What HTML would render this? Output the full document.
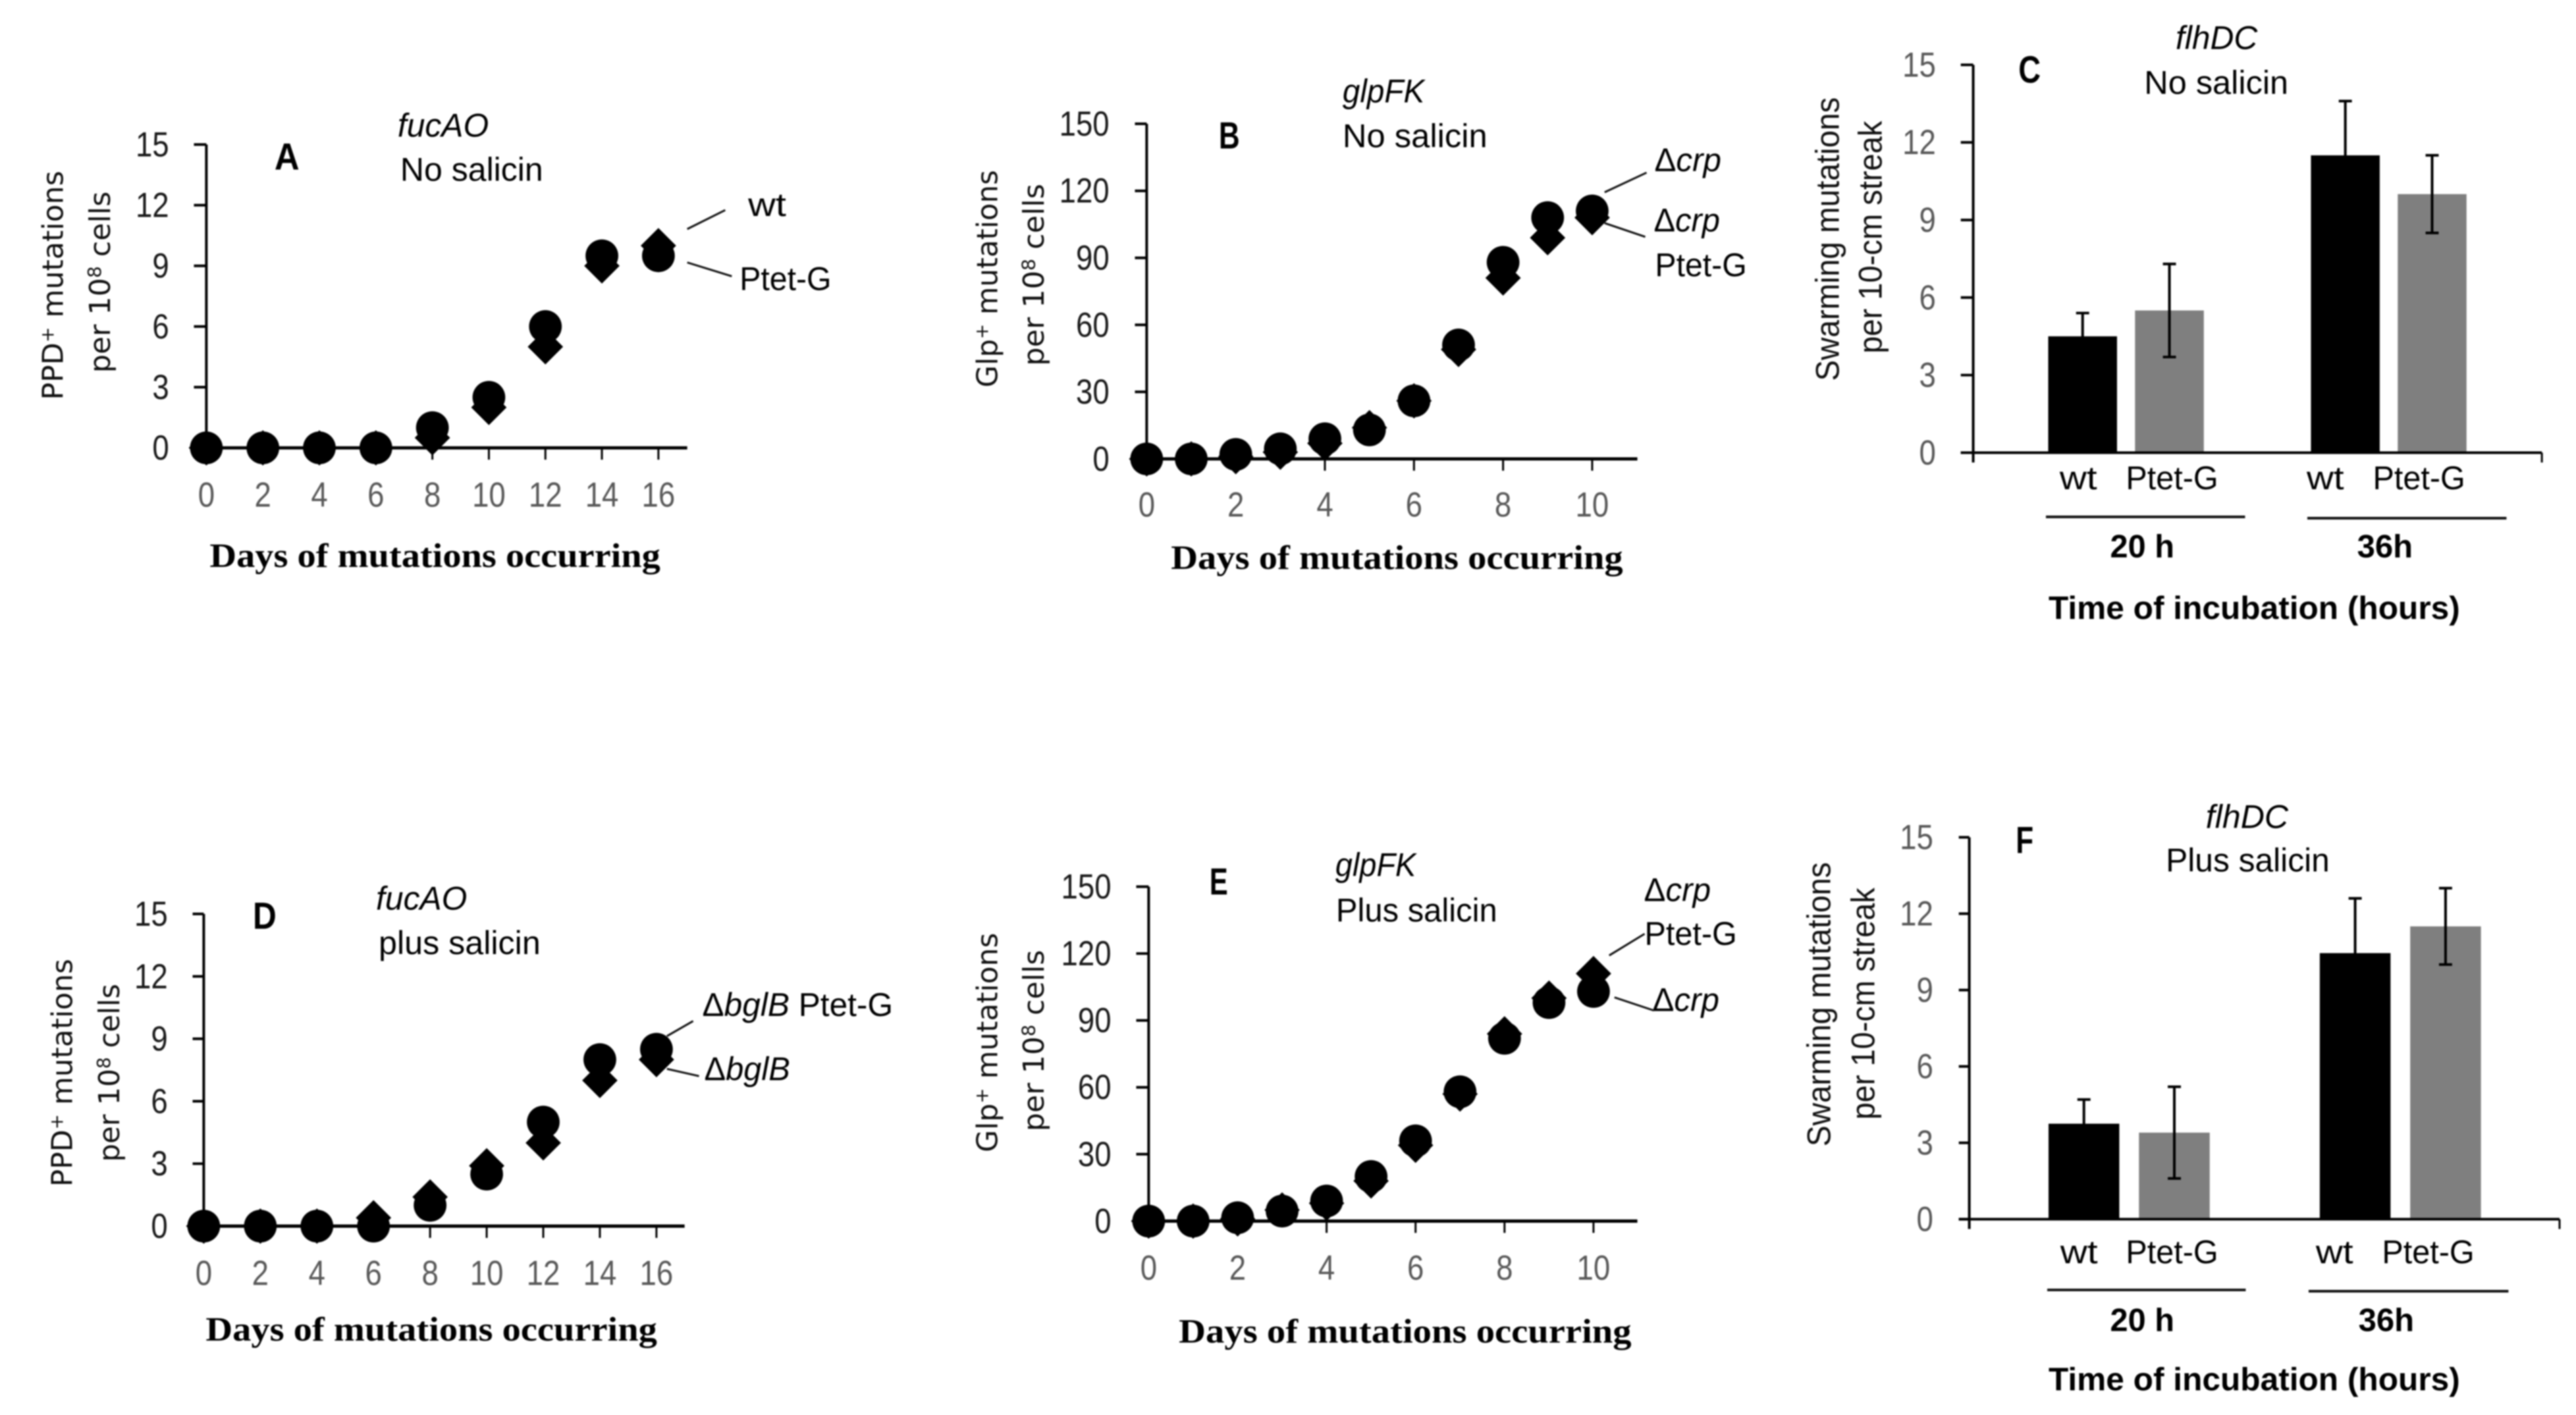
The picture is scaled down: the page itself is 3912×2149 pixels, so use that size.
<!DOCTYPE html>
<html lang="en">
<head>
<meta charset="utf-8">
<title>Mutation rates, panels A to F</title>
<style>
html,body{margin:0;padding:0;background:#fff;}
svg{display:block;filter:blur(1.1px);}
text{font-family:"Liberation Sans",sans-serif;fill:#000;}
.note{font-size:50px;}
.it{font-style:italic;}
.letter{font-size:58px;font-weight:bold;}
.days{font-family:"Liberation Serif",serif;font-size:52px;font-weight:bold;}
.hours{font-size:49px;font-weight:bold;}
.yl{font-family:"DejaVu Sans",sans-serif;font-size:44px;text-anchor:middle;fill:#111;}
.yb{font-size:50px;text-anchor:middle;fill:#111;}
.lead{stroke:#111;stroke-width:3;}
.under{stroke:#111;stroke-width:4;}
</style>
</head>
<body>
<svg id="fig" width="3912" height="2149" viewBox="0 0 3912 2149" xmlns="http://www.w3.org/2000/svg">
<rect width="3912" height="2149" fill="#fff"/>

<g id="panel-a" transform="translate(0 130) scale(.9949) translate(0 -130)">
<text class="letter" x="419" y="258" textLength="38" lengthAdjust="spacingAndGlyphs">A</text>
<text class="note it" x="607" y="208" textLength="139" lengthAdjust="spacingAndGlyphs">fucAO</text>
<text class="note" x="611" y="275" textLength="218" lengthAdjust="spacingAndGlyphs">No salicin</text>
<text class="note" x="1142" y="329" textLength="58" lengthAdjust="spacingAndGlyphs">wt</text>
<text class="note" x="1129" y="442" textLength="140" lengthAdjust="spacingAndGlyphs">Ptet-G</text>
<line class="lead" x1="1049" y1="349" x2="1107" y2="320"/>
<line class="lead" x1="1049" y1="400" x2="1117" y2="421"/>
<text class="yl" transform="translate(96,435) rotate(-90)" textLength="350" lengthAdjust="spacingAndGlyphs">PPD<tspan font-size="28" dy="-14">+</tspan><tspan dy="14"> mutations</tspan></text>
<text class="yl" transform="translate(168,430) rotate(-90)" textLength="277" lengthAdjust="spacingAndGlyphs">per 10<tspan font-size="28" dy="-14">8</tspan><tspan dy="14"> cells</tspan></text>
<text class="days" x="320" y="865" textLength="688" lengthAdjust="spacingAndGlyphs">Days of mutations occurring</text>
</g>

<g id="panel-b" transform="translate(1430 100) scale(.9949) translate(-1430 -100)">
<text class="letter" x="1853" y="226" textLength="32" lengthAdjust="spacingAndGlyphs">B</text>
<text class="note it" x="2042" y="156" textLength="125" lengthAdjust="spacingAndGlyphs">glpFK</text>
<text class="note" x="2042" y="224" textLength="221" lengthAdjust="spacingAndGlyphs">No salicin</text>
<text class="note" x="2518" y="261" textLength="102" lengthAdjust="spacingAndGlyphs">Δ<tspan class="it">crp</tspan></text>
<text class="note" x="2517" y="353" textLength="101" lengthAdjust="spacingAndGlyphs">Δ<tspan class="it">crp</tspan></text>
<text class="note" x="2519" y="421" textLength="140" lengthAdjust="spacingAndGlyphs">Ptet-G</text>
<line class="lead" x1="2442" y1="293" x2="2506" y2="263"/>
<line class="lead" x1="2442" y1="340" x2="2504" y2="361"/>
<text class="yl" transform="translate(1515,425) rotate(-90)" textLength="332" lengthAdjust="spacingAndGlyphs">Glp<tspan font-size="28" dy="-14">+</tspan><tspan dy="14"> mutations</tspan></text>
<text class="yl" transform="translate(1586,419) rotate(-90)" textLength="278" lengthAdjust="spacingAndGlyphs">per 10<tspan font-size="28" dy="-14">8</tspan><tspan dy="14"> cells</tspan></text>
<text class="days" x="1780" y="868" textLength="690" lengthAdjust="spacingAndGlyphs">Days of mutations occurring</text>
</g>

<g id="panel-c" transform="translate(2720 0) scale(.9949) translate(-2720 0)">
<text class="letter" x="3067" y="126" textLength="34" lengthAdjust="spacingAndGlyphs">C</text>
<text class="note it" x="3307" y="75" textLength="125" lengthAdjust="spacingAndGlyphs">flhDC</text>
<text class="note" x="3259" y="143" textLength="220" lengthAdjust="spacingAndGlyphs">No salicin</text>
<text class="yb" transform="translate(2793,365) rotate(-90)" textLength="433" lengthAdjust="spacingAndGlyphs">Swarming mutations</text>
<text class="yb" transform="translate(2858,362) rotate(-90)" textLength="355" lengthAdjust="spacingAndGlyphs">per 10-cm streak</text>
<text class="note" x="3130" y="747" textLength="57" lengthAdjust="spacingAndGlyphs">wt</text>
<text class="note" x="3231" y="747" textLength="141" lengthAdjust="spacingAndGlyphs">Ptet-G</text>
<text class="note" x="3507" y="747" textLength="57" lengthAdjust="spacingAndGlyphs">wt</text>
<text class="note" x="3608" y="747" textLength="141" lengthAdjust="spacingAndGlyphs">Ptet-G</text>
<line class="under" x1="3109" y1="789" x2="3413" y2="789"/>
<line class="under" x1="3508" y1="791" x2="3812" y2="791"/>
<text class="hours" x="3207" y="851" textLength="98" lengthAdjust="spacingAndGlyphs">20 h</text>
<text class="hours" x="3584" y="851" textLength="85" lengthAdjust="spacingAndGlyphs">36h</text>
<text class="hours" x="3113" y="945" textLength="628" lengthAdjust="spacingAndGlyphs">Time of incubation (hours)</text>
</g>

<g id="panel-d" transform="translate(0 1300) scale(.9949) translate(0 -1300)">
<text class="letter" x="386" y="1411" textLength="36" lengthAdjust="spacingAndGlyphs">D</text>
<text class="note it" x="574" y="1382" textLength="139" lengthAdjust="spacingAndGlyphs">fucAO</text>
<text class="note" x="578" y="1450" textLength="247" lengthAdjust="spacingAndGlyphs">plus salicin</text>
<text class="note" x="1072" y="1544" textLength="291" lengthAdjust="spacingAndGlyphs">Δ<tspan class="it">bglB</tspan> Ptet-G</text>
<text class="note" x="1075" y="1642" textLength="131" lengthAdjust="spacingAndGlyphs">Δ<tspan class="it">bglB</tspan></text>
<line class="lead" x1="1018" y1="1575" x2="1058" y2="1552"/>
<line class="lead" x1="1018" y1="1625" x2="1067" y2="1636"/>
<text class="yl" transform="translate(110,1631) rotate(-90)" textLength="348" lengthAdjust="spacingAndGlyphs">PPD<tspan font-size="28" dy="-14">+</tspan><tspan dy="14"> mutations</tspan></text>
<text class="yl" transform="translate(182,1631) rotate(-90)" textLength="272" lengthAdjust="spacingAndGlyphs">per 10<tspan font-size="28" dy="-14">8</tspan><tspan dy="14"> cells</tspan></text>
<text class="days" x="314" y="2040" textLength="689" lengthAdjust="spacingAndGlyphs">Days of mutations occurring</text>
</g>

<g id="panel-e" transform="translate(1430 1270) scale(.9949) translate(-1430 -1270)">
<text class="letter" x="1839" y="1359" textLength="28" lengthAdjust="spacingAndGlyphs">E</text>
<text class="note it" x="2031" y="1331" textLength="123" lengthAdjust="spacingAndGlyphs">glpFK</text>
<text class="note" x="2032" y="1400" textLength="246" lengthAdjust="spacingAndGlyphs">Plus salicin</text>
<text class="note" x="2502" y="1369" textLength="102" lengthAdjust="spacingAndGlyphs">Δ<tspan class="it">crp</tspan></text>
<text class="note" x="2503" y="1436" textLength="141" lengthAdjust="spacingAndGlyphs">Ptet-G</text>
<text class="note" x="2515" y="1537" textLength="102" lengthAdjust="spacingAndGlyphs">Δ<tspan class="it">crp</tspan></text>
<line class="lead" x1="2449" y1="1452" x2="2503" y2="1419"/>
<line class="lead" x1="2457" y1="1516" x2="2517" y2="1536"/>
<text class="yl" transform="translate(1515,1585) rotate(-90)" textLength="335" lengthAdjust="spacingAndGlyphs">Glp<tspan font-size="28" dy="-14">+</tspan><tspan dy="14"> mutations</tspan></text>
<text class="yl" transform="translate(1586,1582) rotate(-90)" textLength="277" lengthAdjust="spacingAndGlyphs">per 10<tspan font-size="28" dy="-14">8</tspan><tspan dy="14"> cells</tspan></text>
<text class="days" x="1792" y="2043" textLength="691" lengthAdjust="spacingAndGlyphs">Days of mutations occurring</text>
</g>

<g id="panel-f" transform="translate(2720 1190) scale(.9949) translate(-2720 -1190)">
<text class="letter" x="3063" y="1296" textLength="27" lengthAdjust="spacingAndGlyphs">F</text>
<text class="note it" x="3353" y="1258" textLength="126" lengthAdjust="spacingAndGlyphs">flhDC</text>
<text class="note" x="3292" y="1324" textLength="250" lengthAdjust="spacingAndGlyphs">Plus salicin</text>
<text class="yb" transform="translate(2780,1527) rotate(-90)" textLength="434" lengthAdjust="spacingAndGlyphs">Swarming mutations</text>
<text class="yb" transform="translate(2847,1526) rotate(-90)" textLength="354" lengthAdjust="spacingAndGlyphs">per 10-cm streak</text>
<text class="note" x="3131" y="1922" textLength="57" lengthAdjust="spacingAndGlyphs">wt</text>
<text class="note" x="3231" y="1922" textLength="141" lengthAdjust="spacingAndGlyphs">Ptet-G</text>
<text class="note" x="3521" y="1922" textLength="57" lengthAdjust="spacingAndGlyphs">wt</text>
<text class="note" x="3622" y="1922" textLength="141" lengthAdjust="spacingAndGlyphs">Ptet-G</text>
<line class="under" x1="3111" y1="1963" x2="3414" y2="1963"/>
<line class="under" x1="3510" y1="1965" x2="3815" y2="1965"/>
<text class="hours" x="3207" y="2026" textLength="98" lengthAdjust="spacingAndGlyphs">20 h</text>
<text class="hours" x="3586" y="2026" textLength="85" lengthAdjust="spacingAndGlyphs">36h</text>
<text class="hours" x="3113" y="2116" textLength="628" lengthAdjust="spacingAndGlyphs">Time of incubation (hours)</text>
</g>
</svg>

<script>
// Panel A data
const daysA = [0, 2, 4, 6, 8, 10, 12, 14, 16];
const circlesA = [0, 0, 0, 0, 1, 2.5, 6, 9.5, 9.5];
const diamondsA = [0, 0, 0, 0, 0.5, 2, 5, 9, 10];
// Panel B data
const daysB = [0, 1, 2, 3, 4, 5, 6, 7, 8, 9, 10];
const circlesB = [0, 0, 2, 4.5, 9, 13, 26, 51, 88, 108, 111];
const diamondsB = [0, 0, 1, 3, 7, 14, 26, 49, 81, 99, 108];
// Panel C data
const barLabelsC = ['wt 20 h', 'Ptet-G 20 h', 'wt 36 h', 'Ptet-G 36 h'];
const barValuesC = [4.5, 5.5, 11.5, 10];
const barErrorsC = [0.9, 1.8, 2.1, 1.5];
// Panel D data
const daysD = [0, 2, 4, 6, 8, 10, 12, 14, 16];
const circlesD = [0, 0, 0, 0, 1, 2.5, 5, 8, 8.5];
const diamondsD = [0, 0, 0, 0.4, 1.4, 2.9, 4, 7, 8];
// Panel E data
const daysE = [0, 1, 2, 3, 4, 5, 6, 7, 8, 9, 10];
const circlesE = [0, 0, 1.5, 4.5, 9, 20, 36, 58, 82, 98, 103];
const diamondsE = [0, 0, 1, 5, 8, 18, 34, 57, 84, 100, 111];
// Panel F data
const barLabelsF = ['wt 20 h', 'Ptet-G 20 h', 'wt 36 h', 'Ptet-G 36 h'];
const barValuesF = [3.75, 3.4, 10.45, 11.5];
const barErrorsF = [0.95, 1.8, 2.15, 1.5];
// Tick labels
const yTicksSmall = ['0', '3', '6', '9', '12', '15'];
const yTicksLarge = ['0', '30', '60', '90', '120', '150'];
const xTicksLong = ['0', '2', '4', '6', '8', '10', '12', '14', '16'];
const xTicksShort = ['0', '2', '4', '6', '8', '10'];

const NS = 'http://www.w3.org/2000/svg';

function add(tag, attrs, name, parent) {
  const el = document.createElementNS(NS, tag);
  for (const k in attrs) el.setAttribute(k, attrs[k]);
  
  
  parent.appendChild(el);
  return el;
}

function tickText(g, name, x, y, anchor, colour, label) {
  const t = add('text', {x: x, y: y, 'text-anchor': anchor, 'font-size': 53, textLength: label.length * 25.5, lengthAdjust: 'spacingAndGlyphs', style: 'fill:' + colour}, name, g);
  t.textContent = label;
}

function drawYAxis(g, p, yOf, labels, colour) {
  add('line', {x1: p.x0, y1: yOf(Number(labels[labels.length - 1])), x2: p.x0, y2: p.axisBottom, stroke: '#000', 'stroke-width': 4}, p.id + '-y-axis', g);
  labels.forEach(function (lab) {
    const y = yOf(Number(lab));
    add('line', {x1: p.tickLeft, y1: y, x2: p.x0, y2: y, stroke: '#000', 'stroke-width': 4}, p.id + '-y-tick', g);
    tickText(g, p.id + '-y-tick-label', p.yLabelRight, y + 18, 'end', colour, lab);
  });
}

function drawScatter(p, days, circles, diamonds, yLabels, xLabels) {
  const g = add('g', {}, p.id + '-chart', document.getElementById(p.id));
  const xOf = function (d) { return p.x0 + (d - p.xMin) / (p.xMax - p.xMin) * (p.x1 - p.x0); };
  const yOf = function (v) { return p.y0 + v / p.yMax * (p.yTop - p.y0); };
  p.axisBottom = p.y0;
  drawYAxis(g, p, yOf, yLabels, '#1a1a1a');
  add('line', {x1: p.x0, y1: p.y0, x2: p.xEnd, y2: p.y0, stroke: '#000', 'stroke-width': 5}, p.id + '-x-axis', g);
  xLabels.forEach(function (lab) {
    const x = xOf(Number(lab));
    add('line', {x1: x, y1: p.y0, x2: x, y2: p.y0 + 18, stroke: '#000', 'stroke-width': 3}, p.id + '-x-tick', g);
    tickText(g, p.id + '-x-tick-label', x, p.xLabelY, 'middle', '#595959', lab);
  });
  days.forEach(function (d, i) {
    const x = xOf(d), y = yOf(diamonds[i]), r = 27;
    const pts = [[x, y - r], [x + r, y], [x, y + r], [x - r, y]].map(function (q) { return q.join(','); }).join(' ');
    add('polygon', {points: pts, fill: '#000'}, p.id + '-diamond-point', g);
  });
  days.forEach(function (d, i) {
    add('circle', {cx: xOf(d), cy: yOf(circles[i]), r: 25, fill: '#000'}, p.id + '-circle-point', g);
  });
}

function drawBars(p, labels, values, errors, yLabels) {
  const g = add('g', {}, p.id + '-chart', document.getElementById(p.id));
  const yOf = function (v) { return p.y0 + v / p.yMax * (p.yTop - p.y0); };
  const xOf = function (i) { return p.start + Math.floor(i / 2) * p.groupStep + (i % 2) * p.subStep; };
  p.axisBottom = p.y0 + 15;
  labels.forEach(function (lab, i) {
    const top = yOf(values[i]);
    add('rect', {x: xOf(i) - p.barW / 2, y: top, width: p.barW, height: p.y0 - top, fill: i % 2 ? '#7f7f7f' : '#000'}, p.id + '-bar-' + i, g);
  });
  labels.forEach(function (lab, i) {
    const x = xOf(i), hi = yOf(values[i] + errors[i]), lo = yOf(values[i] - errors[i]);
    add('line', {x1: x, y1: hi, x2: x, y2: lo, stroke: '#000', 'stroke-width': 4}, p.id + '-error-bar-' + i, g);
    add('line', {x1: x - 10, y1: hi, x2: x + 10, y2: hi, stroke: '#000', 'stroke-width': 4}, p.id + '-error-cap-top-' + i, g);
    add('line', {x1: x - 10, y1: lo, x2: x + 10, y2: lo, stroke: '#000', 'stroke-width': 4}, p.id + '-error-cap-bottom-' + i, g);
  });
  drawYAxis(g, p, yOf, yLabels, '#595959');
  add('line', {x1: p.tickLeft, y1: p.y0, x2: p.xEnd, y2: p.y0, stroke: '#000', 'stroke-width': 4}, p.id + '-x-axis', g);
  add('line', {x1: p.xEnd, y1: p.y0, x2: p.xEnd, y2: p.y0 + 15, stroke: '#000', 'stroke-width': 3}, p.id + '-x-axis-end-tick', g);
}

drawScatter({id: 'panel-a', x0: 315, x1: 1005, xMin: 0, xMax: 16, xEnd: 1049, y0: 683, yTop: 220, yMax: 15, tickLeft: 296, yLabelRight: 258, xLabelY: 773}, daysA, circlesA, diamondsA, yTicksSmall, xTicksLong);
drawScatter({id: 'panel-b', x0: 1743, x1: 2423, xMin: 0, xMax: 10, xEnd: 2492, y0: 700, yTop: 188.5, yMax: 150, tickLeft: 1725, yLabelRight: 1686, xLabelY: 788}, daysB, circlesB, diamondsB, yTicksLarge, xTicksShort);
drawBars({id: 'panel-c', x0: 2998, xEnd: 3866, y0: 691, yTop: 99, yMax: 15, tickLeft: 2979, yLabelRight: 2941, start: 3165, groupStep: 401, subStep: 132.5, barW: 105}, barLabelsC, barValuesC, barErrorsC, yTicksSmall);
drawScatter({id: 'panel-d', x0: 311, x1: 1002, xMin: 0, xMax: 16, xEnd: 1045, y0: 1865, yTop: 1388.5, yMax: 15, tickLeft: 294, yLabelRight: 256, xLabelY: 1955}, daysD, circlesD, diamondsD, yTicksSmall, xTicksLong);
drawScatter({id: 'panel-e', x0: 1746, x1: 2425, xMin: 0, xMax: 10, xEnd: 2492, y0: 1857.5, yTop: 1347, yMax: 150, tickLeft: 1727, yLabelRight: 1689, xLabelY: 1947}, daysE, circlesE, diamondsE, yTicksLarge, xTicksShort);
drawBars({id: 'panel-f', x0: 2992, xEnd: 3893, y0: 1855, yTop: 1272, yMax: 15, tickLeft: 2976, yLabelRight: 2937, start: 3167, groupStep: 414, subStep: 138, barW: 108}, barLabelsF, barValuesF, barErrorsF, yTicksSmall);
</script>
</body>
</html>
